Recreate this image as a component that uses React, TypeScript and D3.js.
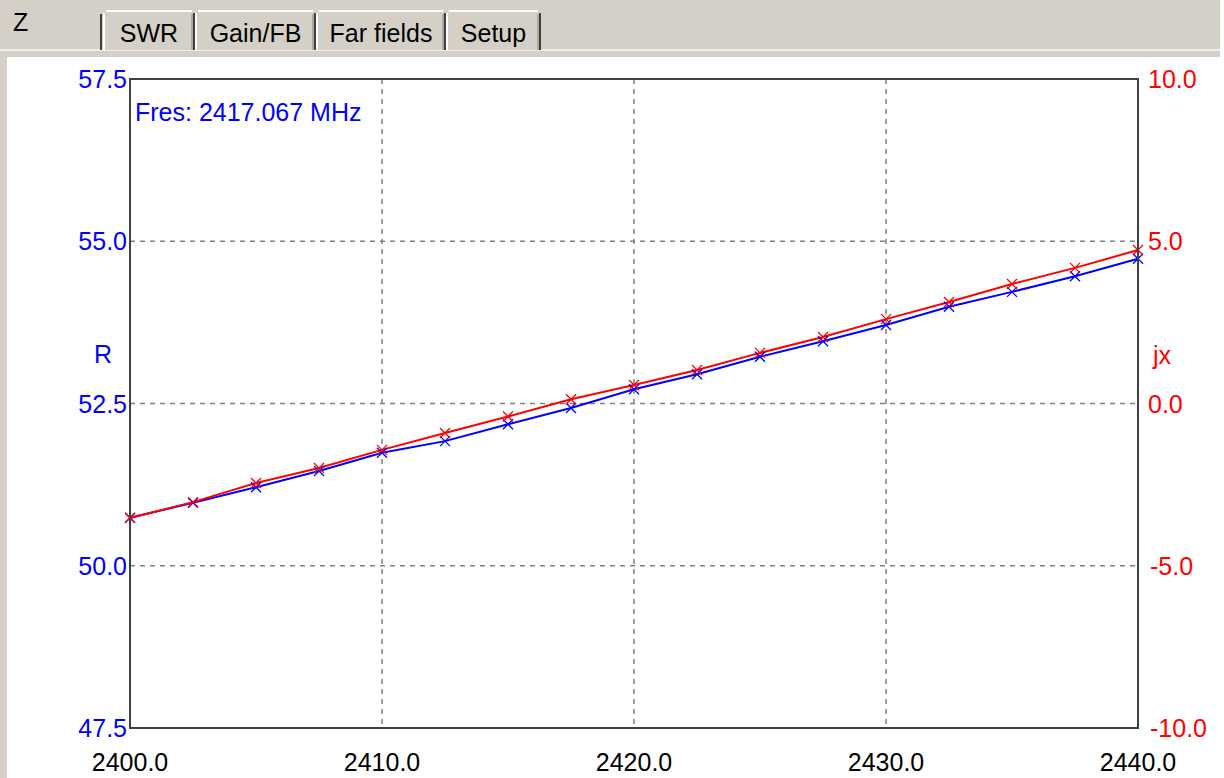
import React from "react";
import * as d3 from "d3";

const freqs = [2400, 2402.5, 2405, 2407.5, 2410, 2412.5, 2415, 2417.5, 2420, 2422.5, 2425, 2427.5, 2430, 2432.5, 2435, 2437.5, 2440];
const rValues = [50.74, 50.97, 51.21, 51.46, 51.74, 51.92, 52.18, 52.43, 52.72, 52.95, 53.22, 53.46, 53.71, 53.99, 54.22, 54.46, 54.73];
const jxValues = [-3.53, -3.04, -2.45, -1.99, -1.43, -0.91, -0.4, 0.13, 0.57, 1.03, 1.56, 2.05, 2.6, 3.13, 3.68, 4.18, 4.73];
const xTicks = [2400, 2410, 2420, 2430, 2440];
const rTicks = [47.5, 50, 52.5, 55, 57.5];
const jxTicks = [-10, -5, 0, 5, 10];
const tabs = [
  { label: "SWR", x0: 103, x1: 195 },
  { label: "Gain/FB", x0: 195, x1: 316 },
  { label: "Far fields", x0: 316, x1: 446 },
  { label: "Setup", x0: 446, x1: 541 },
];
const fresText = "Fres: 2417.067 MHz";

const W = 1224, H = 778;
const L = 130, R = 1138, T = 79, B = 728;
const FONT = "'Liberation Sans', Arial, sans-serif";

export default function App() {
  const x = d3.scaleLinear().domain([2400, 2440]).range([L, R]);
  const yR = d3.scaleLinear().domain([47.5, 57.5]).range([B, T]);
  const yJ = d3.scaleLinear().domain([-10, 10]).range([B, T]);
  const lineR = d3.line<number>().x((_, i) => x(freqs[i])).y((d) => yR(d));
  const lineJ = d3.line<number>().x((_, i) => x(freqs[i])).y((d) => yJ(d));
  const marker = (cx: number, cy: number, color: string, key: string) => (
    <g key={key} stroke={color} strokeWidth={1.3}>
      <line x1={cx - 5} y1={cy - 5} x2={cx + 5} y2={cy + 5} />
      <line x1={cx - 5} y1={cy + 5} x2={cx + 5} y2={cy - 5} />
    </g>
  );
  return (
    <svg width={W} height={H} style={{ position: "fixed", left: 0, top: 0, background: "#fff" }} fontFamily={FONT}>
      {/* tab strip */}
      <rect x={0} y={0} width={1220} height={57} fill="#d4d0c8" />
      <line x1={0} y1={50} x2={1220} y2={50} stroke="#f0efec" strokeWidth={2} />
      <rect x={0} y={57} width={7} height={H - 57} fill="#d4d0c8" />
      <text x={13} y={31} fontSize={25} fill="#000">Z</text>
      {tabs.map((t) => (
        <g key={t.label}>
          <rect x={t.x0 + 1} y={11} width={t.x1 - t.x0 - 2} height={39} fill="#d4d0c8" />
          <line x1={t.x0 + 1} y1={13} x2={t.x0 + 1} y2={50} stroke="#ffffff" strokeWidth={2} />
          <line x1={t.x0 + 3} y1={11} x2={t.x1 - 3} y2={11} stroke="#ffffff" strokeWidth={2} />
          <line x1={t.x1 - 1} y1={13} x2={t.x1 - 1} y2={50} stroke="#404040" strokeWidth={2} />
          <line x1={t.x1 - 3} y1={14} x2={t.x1 - 3} y2={50} stroke="#808080" strokeWidth={1} />
          <text x={(t.x0 + t.x1) / 2} y={42} fontSize={25} textAnchor="middle" fill="#000">{t.label}</text>
        </g>
      ))}
      <line x1={101} y1={14} x2={101} y2={50} stroke="#404040" strokeWidth={2} />

      {/* grid */}
      <g stroke="#808080" strokeWidth={1.5} strokeDasharray="5,5">
        {xTicks.slice(1, -1).map((t) => (
          <line key={"gx" + t} x1={x(t)} y1={T} x2={x(t)} y2={B} />
        ))}
        {rTicks.slice(1, -1).map((t) => (
          <line key={"gy" + t} x1={L} y1={yR(t)} x2={R} y2={yR(t)} />
        ))}
      </g>

      {/* series */}
      <path d={lineR(rValues) || ""} fill="none" stroke="#0000ff" strokeWidth={2} />
      <path d={lineJ(jxValues) || ""} fill="none" stroke="#ff0000" strokeWidth={2} />
      {rValues.map((v, i) => marker(x(freqs[i]), yR(v), "#0000ff", "mr" + i))}
      {jxValues.map((v, i) => marker(x(freqs[i]), yJ(v), "#ff0000", "mj" + i))}

      {/* frame */}
      <rect x={L} y={T} width={R - L} height={B - T} fill="none" stroke="#404040" strokeWidth={2} />

      {/* axes labels */}
      {rTicks.map((t) => (
        <text key={"rl" + t} x={L - 3} y={yR(t) + 9} fontSize={25} fill="#0000ff" textAnchor="end">{t.toFixed(1)}</text>
      ))}
      {jxTicks.map((t) => (
        <text key={"jl" + t} x={R + (t < 0 ? 12 : 10)} y={yJ(t) + 9} fontSize={25} fill="#ff0000" textAnchor="start">{t.toFixed(1)}</text>
      ))}
      {xTicks.map((t) => (
        <text key={"xl" + t} x={x(t)} y={771} fontSize={25} fill="#000" textAnchor="middle">{t.toFixed(1)}</text>
      ))}
      <text x={103} y={363} fontSize={25} fill="#0000ff" textAnchor="middle">R</text>
      <text x={1162} y={364} fontSize={25} fill="#ff0000" textAnchor="middle">jx</text>
      <text x={135} y={121} fontSize={25} fill="#0000ff">{fresText}</text>
    </svg>
  );
}
